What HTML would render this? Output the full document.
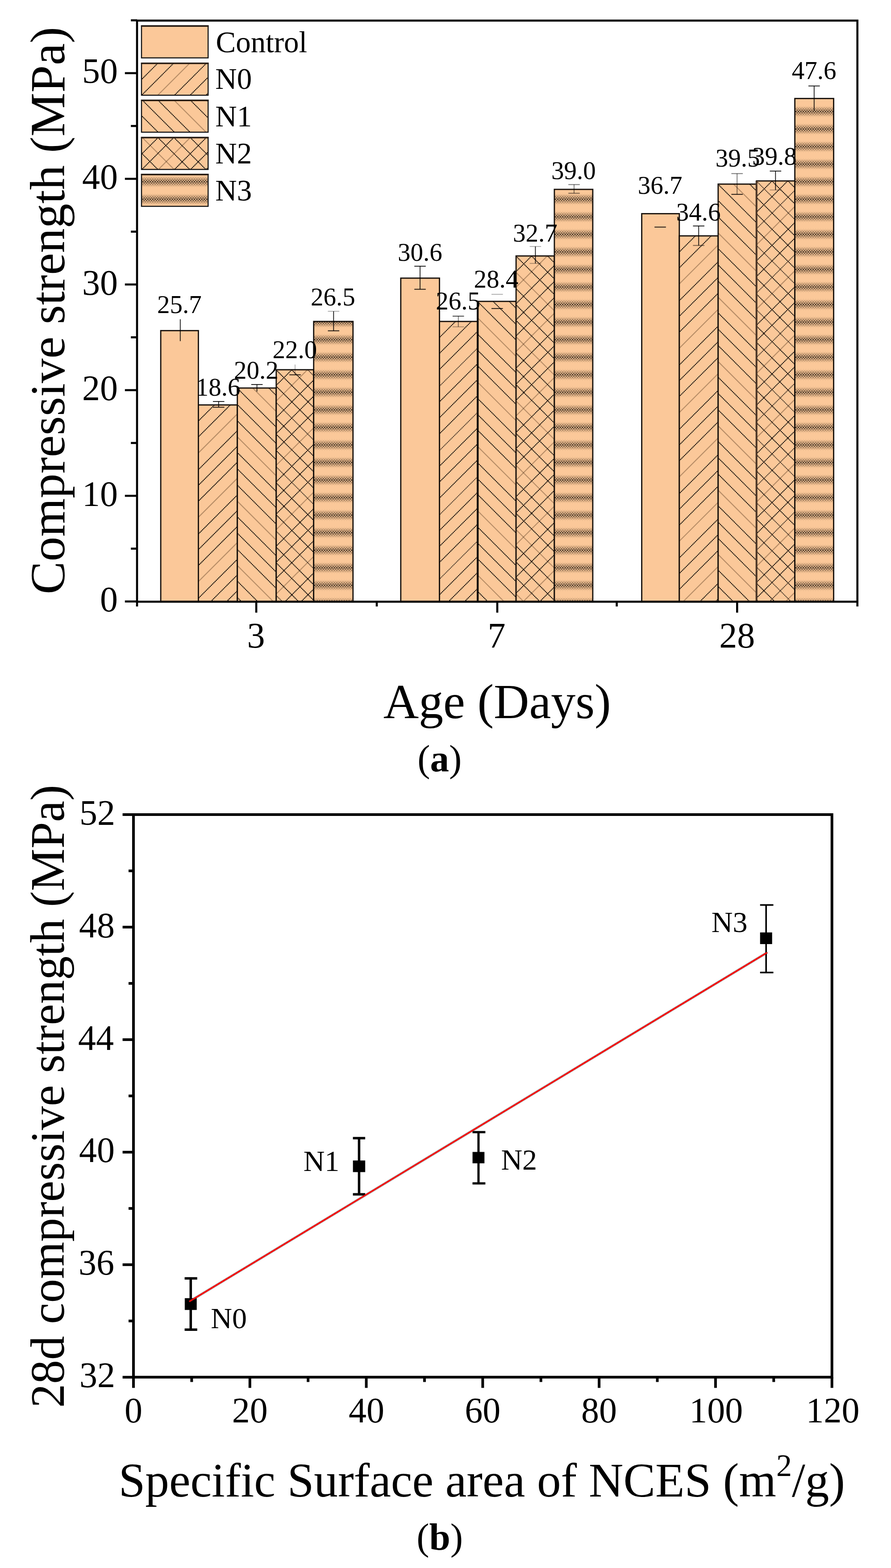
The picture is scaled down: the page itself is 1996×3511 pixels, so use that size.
<!DOCTYPE html><html><head><meta charset="utf-8"><title>Compressive strength figure</title><style>html,body{margin:0;padding:0;background:#fff;width:1996px;height:3511px;overflow:hidden}svg{display:block}</style></head><body><svg width="1996" height="3511" viewBox="0 0 1996 3511"><defs><pattern id="pband" patternUnits="userSpaceOnUse" x="-0.225" y="426.553" width="5.500" height="39.293"><rect width="5.500" height="39.293" fill="#FBC899"/><rect x="0" y="9.646" width="5.500" height="20.000" fill="#5a3a1a" fill-opacity="0.09"/><rect x="0.000" y="6.596" width="2.750" height="2.900" fill="#000" fill-opacity="0.03"/><rect x="2.750" y="9.497" width="2.750" height="2.900" fill="#000" fill-opacity="0.12"/><rect x="0.000" y="12.396" width="2.750" height="2.900" fill="#000" fill-opacity="0.34"/><rect x="2.750" y="15.297" width="2.750" height="2.900" fill="#000" fill-opacity="0.58"/><rect x="0.000" y="18.197" width="2.750" height="2.900" fill="#000" fill-opacity="0.80"/><rect x="2.750" y="21.096" width="2.750" height="2.900" fill="#000" fill-opacity="0.58"/><rect x="0.000" y="23.997" width="2.750" height="2.900" fill="#000" fill-opacity="0.34"/><rect x="2.750" y="26.896" width="2.750" height="2.900" fill="#000" fill-opacity="0.12"/><rect x="0.000" y="29.796" width="2.750" height="2.900" fill="#000" fill-opacity="0.03"/></pattern><clipPath id="c1"><rect x="444.40" y="906.72" width="87.30" height="440.58"/></clipPath><clipPath id="c2"><rect x="531.70" y="868.87" width="87.10" height="478.43"/></clipPath><clipPath id="c3"><rect x="618.80" y="827.90" width="83.90" height="519.40"/></clipPath><clipPath id="c4"><rect x="984.50" y="719.81" width="85.60" height="627.49"/></clipPath><clipPath id="c5"><rect x="1070.10" y="674.86" width="86.00" height="672.44"/></clipPath><clipPath id="c6"><rect x="1156.10" y="573.12" width="85.80" height="774.18"/></clipPath><clipPath id="c7"><rect x="1521.80" y="528.16" width="87.00" height="819.14"/></clipPath><clipPath id="c8"><rect x="1608.80" y="412.23" width="85.90" height="935.07"/></clipPath><clipPath id="c9"><rect x="1694.70" y="405.13" width="85.90" height="942.17"/></clipPath><clipPath id="c10"><rect x="317.00" y="141.60" width="149.20" height="71.60"/></clipPath><clipPath id="c11"><rect x="317.00" y="224.40" width="149.20" height="71.60"/></clipPath><clipPath id="c12"><rect x="317.00" y="307.80" width="149.20" height="71.60"/></clipPath></defs><rect width="1996" height="3511" fill="#fff"/><g id="bars"><rect x="360.10" y="740.30" width="84.30" height="607.00" fill="#FBC899"/><rect x="360.10" y="740.30" width="84.30" height="607.00" fill="none" stroke="#16100b" stroke-width="2.8"/><rect x="444.40" y="906.72" width="87.30" height="440.58" fill="#FBC899"/><g clip-path="url(#c1)"><path d="M556.90 901.72L106.32 1352.30M700.90 901.72L250.32 1352.30M844.90 901.72L394.32 1352.30" fill="none" stroke="rgba(45,22,0,0.33)" stroke-width="2.2"/><g><path d="M450.40 901.72L-0.18 1352.30M594.40 901.72L143.82 1352.30M738.40 901.72L287.82 1352.30M882.40 901.72L431.82 1352.30M485.40 901.72L34.82 1352.30M629.40 901.72L178.82 1352.30M773.40 901.72L322.82 1352.30M917.40 901.72L466.82 1352.30M520.90 901.72L70.32 1352.30M664.90 901.72L214.32 1352.30M808.90 901.72L358.32 1352.30M952.90 901.72L502.32 1352.30" fill="none" stroke="rgba(20,12,6,0.62)" stroke-width="1.45"/><path d="M450.40 901.72L-0.18 1352.30M594.40 901.72L143.82 1352.30M738.40 901.72L287.82 1352.30M882.40 901.72L431.82 1352.30M485.40 901.72L34.82 1352.30M629.40 901.72L178.82 1352.30M773.40 901.72L322.82 1352.30M917.40 901.72L466.82 1352.30M520.90 901.72L70.32 1352.30M664.90 901.72L214.32 1352.30M808.90 901.72L358.32 1352.30M952.90 901.72L502.32 1352.30" fill="none" stroke="#000" stroke-width="2.1" stroke-dasharray="1.7 2.2"/></g></g><rect x="444.40" y="906.72" width="87.30" height="440.58" fill="none" stroke="#16100b" stroke-width="2.8"/><rect x="531.70" y="868.87" width="87.10" height="478.43" fill="#FBC899"/><g clip-path="url(#c2)"><path d="M129.20 863.87L617.63 1352.30M273.20 863.87L761.63 1352.30M417.20 863.87L905.63 1352.30M561.20 863.87L1049.63 1352.30" fill="none" stroke="rgba(45,22,0,0.33)" stroke-width="2.2"/><g><path d="M94.20 863.87L582.63 1352.30M238.20 863.87L726.63 1352.30M382.20 863.87L870.63 1352.30M526.20 863.87L1014.63 1352.30M165.20 863.87L653.63 1352.30M309.20 863.87L797.63 1352.30M453.20 863.87L941.63 1352.30M597.20 863.87L1085.63 1352.30M57.70 863.87L546.13 1352.30M201.70 863.87L690.13 1352.30M345.70 863.87L834.13 1352.30M489.70 863.87L978.13 1352.30" fill="none" stroke="rgba(20,12,6,0.62)" stroke-width="1.45"/><path d="M94.20 863.87L582.63 1352.30M238.20 863.87L726.63 1352.30M382.20 863.87L870.63 1352.30M526.20 863.87L1014.63 1352.30M165.20 863.87L653.63 1352.30M309.20 863.87L797.63 1352.30M453.20 863.87L941.63 1352.30M597.20 863.87L1085.63 1352.30M57.70 863.87L546.13 1352.30M201.70 863.87L690.13 1352.30M345.70 863.87L834.13 1352.30M489.70 863.87L978.13 1352.30" fill="none" stroke="#000" stroke-width="2.1" stroke-dasharray="1.7 2.2"/></g></g><rect x="531.70" y="868.87" width="87.10" height="478.43" fill="none" stroke="#16100b" stroke-width="2.8"/><rect x="618.80" y="827.90" width="83.90" height="519.40" fill="#FBC899"/><g clip-path="url(#c3)"><path d="M693.80 822.90L164.40 1352.30M837.80 822.90L308.40 1352.30M981.80 822.90L452.40 1352.30M1125.80 822.90L596.40 1352.30" fill="none" stroke="rgba(45,22,0,0.33)" stroke-width="2.2"/><g><path d="M622.80 822.90L93.40 1352.30M766.80 822.90L237.40 1352.30M910.80 822.90L381.40 1352.30M1054.80 822.90L525.40 1352.30M1198.80 822.90L669.40 1352.30M658.80 822.90L129.40 1352.30M802.80 822.90L273.40 1352.30M946.80 822.90L417.40 1352.30M1090.80 822.90L561.40 1352.30M730.80 822.90L201.40 1352.30M874.80 822.90L345.40 1352.30M1018.80 822.90L489.40 1352.30M1162.80 822.90L633.40 1352.30" fill="none" stroke="rgba(20,12,6,0.62)" stroke-width="1.45"/><path d="M622.80 822.90L93.40 1352.30M766.80 822.90L237.40 1352.30M910.80 822.90L381.40 1352.30M1054.80 822.90L525.40 1352.30M1198.80 822.90L669.40 1352.30M658.80 822.90L129.40 1352.30M802.80 822.90L273.40 1352.30M946.80 822.90L417.40 1352.30M1090.80 822.90L561.40 1352.30M730.80 822.90L201.40 1352.30M874.80 822.90L345.40 1352.30M1018.80 822.90L489.40 1352.30M1162.80 822.90L633.40 1352.30" fill="none" stroke="#000" stroke-width="2.1" stroke-dasharray="1.7 2.2"/></g><g opacity="0.72"><path d="M108.30 822.90L637.70 1352.30M252.30 822.90L781.70 1352.30M396.30 822.90L925.70 1352.30M540.30 822.90L1069.70 1352.30M684.30 822.90L1213.70 1352.30" fill="none" stroke="rgba(20,12,6,0.62)" stroke-width="1.45"/><path d="M108.30 822.90L637.70 1352.30M252.30 822.90L781.70 1352.30M396.30 822.90L925.70 1352.30M540.30 822.90L1069.70 1352.30M684.30 822.90L1213.70 1352.30" fill="none" stroke="#000" stroke-width="2.1" stroke-dasharray="1.7 2.2"/></g><g><path d="M181.30 822.90L710.70 1352.30M325.30 822.90L854.70 1352.30M469.30 822.90L998.70 1352.30M613.30 822.90L1142.70 1352.30M216.30 822.90L745.70 1352.30M360.30 822.90L889.70 1352.30M504.30 822.90L1033.70 1352.30M648.30 822.90L1177.70 1352.30M144.80 822.90L674.20 1352.30M288.80 822.90L818.20 1352.30M432.80 822.90L962.20 1352.30M576.80 822.90L1106.20 1352.30" fill="none" stroke="rgba(20,12,6,0.62)" stroke-width="1.45"/><path d="M181.30 822.90L710.70 1352.30M325.30 822.90L854.70 1352.30M469.30 822.90L998.70 1352.30M613.30 822.90L1142.70 1352.30M216.30 822.90L745.70 1352.30M360.30 822.90L889.70 1352.30M504.30 822.90L1033.70 1352.30M648.30 822.90L1177.70 1352.30M144.80 822.90L674.20 1352.30M288.80 822.90L818.20 1352.30M432.80 822.90L962.20 1352.30M576.80 822.90L1106.20 1352.30" fill="none" stroke="#000" stroke-width="2.1" stroke-dasharray="1.7 2.2"/></g></g><rect x="618.80" y="827.90" width="83.90" height="519.40" fill="none" stroke="#16100b" stroke-width="2.8"/><rect x="702.70" y="719.81" width="88.10" height="627.49" fill="url(#pband)"/><rect x="702.70" y="719.81" width="88.10" height="627.49" fill="none" stroke="#16100b" stroke-width="2.8"/><rect x="897.80" y="622.80" width="86.70" height="724.50" fill="#FBC899"/><rect x="897.80" y="622.80" width="86.70" height="724.50" fill="none" stroke="#16100b" stroke-width="2.8"/><rect x="984.50" y="719.81" width="85.60" height="627.49" fill="#FBC899"/><g clip-path="url(#c4)"><g opacity="0.72"><path d="M990.50 714.81L353.01 1352.30M1134.50 714.81L497.01 1352.30M1278.50 714.81L641.01 1352.30M1422.50 714.81L785.01 1352.30M1566.50 714.81L929.01 1352.30" fill="none" stroke="rgba(20,12,6,0.62)" stroke-width="1.45"/><path d="M990.50 714.81L353.01 1352.30M1134.50 714.81L497.01 1352.30M1278.50 714.81L641.01 1352.30M1422.50 714.81L785.01 1352.30M1566.50 714.81L929.01 1352.30" fill="none" stroke="#000" stroke-width="2.1" stroke-dasharray="1.7 2.2"/></g><g><path d="M1025.50 714.81L388.01 1352.30M1169.50 714.81L532.01 1352.30M1313.50 714.81L676.01 1352.30M1457.50 714.81L820.01 1352.30M1601.50 714.81L964.01 1352.30M1061.00 714.81L423.51 1352.30M1205.00 714.81L567.51 1352.30M1349.00 714.81L711.51 1352.30M1493.00 714.81L855.51 1352.30M1637.00 714.81L999.51 1352.30M1097.00 714.81L459.51 1352.30M1241.00 714.81L603.51 1352.30M1385.00 714.81L747.51 1352.30M1529.00 714.81L891.51 1352.30M1673.00 714.81L1035.51 1352.30" fill="none" stroke="rgba(20,12,6,0.62)" stroke-width="1.45"/><path d="M1025.50 714.81L388.01 1352.30M1169.50 714.81L532.01 1352.30M1313.50 714.81L676.01 1352.30M1457.50 714.81L820.01 1352.30M1601.50 714.81L964.01 1352.30M1061.00 714.81L423.51 1352.30M1205.00 714.81L567.51 1352.30M1349.00 714.81L711.51 1352.30M1493.00 714.81L855.51 1352.30M1637.00 714.81L999.51 1352.30M1097.00 714.81L459.51 1352.30M1241.00 714.81L603.51 1352.30M1385.00 714.81L747.51 1352.30M1529.00 714.81L891.51 1352.30M1673.00 714.81L1035.51 1352.30" fill="none" stroke="#000" stroke-width="2.1" stroke-dasharray="1.7 2.2"/></g></g><rect x="984.50" y="719.81" width="85.60" height="627.49" fill="none" stroke="#16100b" stroke-width="2.8"/><rect x="1070.10" y="674.86" width="86.00" height="672.44" fill="#FBC899"/><g clip-path="url(#c5)"><path d="M452.10 669.86L1134.54 1352.30M596.10 669.86L1278.54 1352.30M740.10 669.86L1422.54 1352.30M884.10 669.86L1566.54 1352.30M1028.10 669.86L1710.54 1352.30" fill="none" stroke="rgba(45,22,0,0.33)" stroke-width="2.2"/><g><path d="M488.60 669.86L1171.04 1352.30M632.60 669.86L1315.04 1352.30M776.60 669.86L1459.04 1352.30M920.60 669.86L1603.04 1352.30M1064.60 669.86L1747.04 1352.30M523.60 669.86L1206.04 1352.30M667.60 669.86L1350.04 1352.30M811.60 669.86L1494.04 1352.30M955.60 669.86L1638.04 1352.30M1099.60 669.86L1782.04 1352.30M415.60 669.86L1098.04 1352.30M559.60 669.86L1242.04 1352.30M703.60 669.86L1386.04 1352.30M847.60 669.86L1530.04 1352.30M991.60 669.86L1674.04 1352.30M1135.60 669.86L1818.04 1352.30" fill="none" stroke="rgba(20,12,6,0.62)" stroke-width="1.45"/><path d="M488.60 669.86L1171.04 1352.30M632.60 669.86L1315.04 1352.30M776.60 669.86L1459.04 1352.30M920.60 669.86L1603.04 1352.30M1064.60 669.86L1747.04 1352.30M523.60 669.86L1206.04 1352.30M667.60 669.86L1350.04 1352.30M811.60 669.86L1494.04 1352.30M955.60 669.86L1638.04 1352.30M1099.60 669.86L1782.04 1352.30M415.60 669.86L1098.04 1352.30M559.60 669.86L1242.04 1352.30M703.60 669.86L1386.04 1352.30M847.60 669.86L1530.04 1352.30M991.60 669.86L1674.04 1352.30M1135.60 669.86L1818.04 1352.30" fill="none" stroke="#000" stroke-width="2.1" stroke-dasharray="1.7 2.2"/></g></g><rect x="1070.10" y="674.86" width="86.00" height="672.44" fill="none" stroke="#16100b" stroke-width="2.8"/><rect x="1156.10" y="573.12" width="85.80" height="774.18" fill="#FBC899"/><g clip-path="url(#c6)"><path d="M1231.10 568.12L446.92 1352.30M1375.10 568.12L590.92 1352.30M1519.10 568.12L734.92 1352.30M1663.10 568.12L878.92 1352.30M1807.10 568.12L1022.92 1352.30M1951.10 568.12L1166.92 1352.30" fill="none" stroke="rgba(45,22,0,0.33)" stroke-width="2.2"/><g><path d="M1160.10 568.12L375.92 1352.30M1304.10 568.12L519.92 1352.30M1448.10 568.12L663.92 1352.30M1592.10 568.12L807.92 1352.30M1736.10 568.12L951.92 1352.30M1880.10 568.12L1095.92 1352.30M1196.10 568.12L411.92 1352.30M1340.10 568.12L555.92 1352.30M1484.10 568.12L699.92 1352.30M1628.10 568.12L843.92 1352.30M1772.10 568.12L987.92 1352.30M1916.10 568.12L1131.92 1352.30M1268.10 568.12L483.92 1352.30M1412.10 568.12L627.92 1352.30M1556.10 568.12L771.92 1352.30M1700.10 568.12L915.92 1352.30M1844.10 568.12L1059.92 1352.30M1988.10 568.12L1203.92 1352.30" fill="none" stroke="rgba(20,12,6,0.62)" stroke-width="1.45"/><path d="M1160.10 568.12L375.92 1352.30M1304.10 568.12L519.92 1352.30M1448.10 568.12L663.92 1352.30M1592.10 568.12L807.92 1352.30M1736.10 568.12L951.92 1352.30M1880.10 568.12L1095.92 1352.30M1196.10 568.12L411.92 1352.30M1340.10 568.12L555.92 1352.30M1484.10 568.12L699.92 1352.30M1628.10 568.12L843.92 1352.30M1772.10 568.12L987.92 1352.30M1916.10 568.12L1131.92 1352.30M1268.10 568.12L483.92 1352.30M1412.10 568.12L627.92 1352.30M1556.10 568.12L771.92 1352.30M1700.10 568.12L915.92 1352.30M1844.10 568.12L1059.92 1352.30M1988.10 568.12L1203.92 1352.30" fill="none" stroke="#000" stroke-width="2.1" stroke-dasharray="1.7 2.2"/></g><path d="M394.10 568.12L1178.28 1352.30M538.10 568.12L1322.28 1352.30M682.10 568.12L1466.28 1352.30M826.10 568.12L1610.28 1352.30M970.10 568.12L1754.28 1352.30M1114.10 568.12L1898.28 1352.30" fill="none" stroke="rgba(45,22,0,0.33)" stroke-width="2.2"/><g><path d="M430.60 568.12L1214.78 1352.30M574.60 568.12L1358.78 1352.30M718.60 568.12L1502.78 1352.30M862.60 568.12L1646.78 1352.30M1006.60 568.12L1790.78 1352.30M1150.60 568.12L1934.78 1352.30M465.60 568.12L1249.78 1352.30M609.60 568.12L1393.78 1352.30M753.60 568.12L1537.78 1352.30M897.60 568.12L1681.78 1352.30M1041.60 568.12L1825.78 1352.30M1185.60 568.12L1969.78 1352.30M501.60 568.12L1285.78 1352.30M645.60 568.12L1429.78 1352.30M789.60 568.12L1573.78 1352.30M933.60 568.12L1717.78 1352.30M1077.60 568.12L1861.78 1352.30M1221.60 568.12L2005.78 1352.30" fill="none" stroke="rgba(20,12,6,0.62)" stroke-width="1.45"/><path d="M430.60 568.12L1214.78 1352.30M574.60 568.12L1358.78 1352.30M718.60 568.12L1502.78 1352.30M862.60 568.12L1646.78 1352.30M1006.60 568.12L1790.78 1352.30M1150.60 568.12L1934.78 1352.30M465.60 568.12L1249.78 1352.30M609.60 568.12L1393.78 1352.30M753.60 568.12L1537.78 1352.30M897.60 568.12L1681.78 1352.30M1041.60 568.12L1825.78 1352.30M1185.60 568.12L1969.78 1352.30M501.60 568.12L1285.78 1352.30M645.60 568.12L1429.78 1352.30M789.60 568.12L1573.78 1352.30M933.60 568.12L1717.78 1352.30M1077.60 568.12L1861.78 1352.30M1221.60 568.12L2005.78 1352.30" fill="none" stroke="#000" stroke-width="2.1" stroke-dasharray="1.7 2.2"/></g></g><rect x="1156.10" y="573.12" width="85.80" height="774.18" fill="none" stroke="#16100b" stroke-width="2.8"/><rect x="1241.90" y="424.06" width="86.00" height="923.24" fill="url(#pband)"/><rect x="1241.90" y="424.06" width="86.00" height="923.24" fill="none" stroke="#16100b" stroke-width="2.8"/><rect x="1437.60" y="478.48" width="84.20" height="868.82" fill="#FBC899"/><rect x="1437.60" y="478.48" width="84.20" height="868.82" fill="none" stroke="#16100b" stroke-width="2.8"/><rect x="1521.80" y="528.16" width="87.00" height="819.14" fill="#FBC899"/><g clip-path="url(#c7)"><path d="M1634.30 523.16L805.16 1352.30M1778.30 523.16L949.16 1352.30M1922.30 523.16L1093.16 1352.30M2066.30 523.16L1237.16 1352.30M2210.30 523.16L1381.16 1352.30M2354.30 523.16L1525.16 1352.30" fill="none" stroke="rgba(45,22,0,0.33)" stroke-width="2.2"/><g><path d="M1527.80 523.16L698.66 1352.30M1671.80 523.16L842.66 1352.30M1815.80 523.16L986.66 1352.30M1959.80 523.16L1130.66 1352.30M2103.80 523.16L1274.66 1352.30M2247.80 523.16L1418.66 1352.30M2391.80 523.16L1562.66 1352.30M1562.80 523.16L733.66 1352.30M1706.80 523.16L877.66 1352.30M1850.80 523.16L1021.66 1352.30M1994.80 523.16L1165.66 1352.30M2138.80 523.16L1309.66 1352.30M2282.80 523.16L1453.66 1352.30M2426.80 523.16L1597.66 1352.30M1598.30 523.16L769.16 1352.30M1742.30 523.16L913.16 1352.30M1886.30 523.16L1057.16 1352.30M2030.30 523.16L1201.16 1352.30M2174.30 523.16L1345.16 1352.30M2318.30 523.16L1489.16 1352.30" fill="none" stroke="rgba(20,12,6,0.62)" stroke-width="1.45"/><path d="M1527.80 523.16L698.66 1352.30M1671.80 523.16L842.66 1352.30M1815.80 523.16L986.66 1352.30M1959.80 523.16L1130.66 1352.30M2103.80 523.16L1274.66 1352.30M2247.80 523.16L1418.66 1352.30M2391.80 523.16L1562.66 1352.30M1562.80 523.16L733.66 1352.30M1706.80 523.16L877.66 1352.30M1850.80 523.16L1021.66 1352.30M1994.80 523.16L1165.66 1352.30M2138.80 523.16L1309.66 1352.30M2282.80 523.16L1453.66 1352.30M2426.80 523.16L1597.66 1352.30M1598.30 523.16L769.16 1352.30M1742.30 523.16L913.16 1352.30M1886.30 523.16L1057.16 1352.30M2030.30 523.16L1201.16 1352.30M2174.30 523.16L1345.16 1352.30M2318.30 523.16L1489.16 1352.30" fill="none" stroke="#000" stroke-width="2.1" stroke-dasharray="1.7 2.2"/></g></g><rect x="1521.80" y="528.16" width="87.00" height="819.14" fill="none" stroke="#16100b" stroke-width="2.8"/><rect x="1608.80" y="412.23" width="85.90" height="935.07" fill="#FBC899"/><g clip-path="url(#c8)"><path d="M774.30 407.23L1719.37 1352.30M918.30 407.23L1863.37 1352.30M1062.30 407.23L2007.37 1352.30M1206.30 407.23L2151.37 1352.30M1350.30 407.23L2295.37 1352.30M1494.30 407.23L2439.37 1352.30M1638.30 407.23L2583.37 1352.30" fill="none" stroke="rgba(45,22,0,0.33)" stroke-width="2.2"/><g><path d="M739.30 407.23L1684.37 1352.30M883.30 407.23L1828.37 1352.30M1027.30 407.23L1972.37 1352.30M1171.30 407.23L2116.37 1352.30M1315.30 407.23L2260.37 1352.30M1459.30 407.23L2404.37 1352.30M1603.30 407.23L2548.37 1352.30M666.30 407.23L1611.37 1352.30M810.30 407.23L1755.37 1352.30M954.30 407.23L1899.37 1352.30M1098.30 407.23L2043.37 1352.30M1242.30 407.23L2187.37 1352.30M1386.30 407.23L2331.37 1352.30M1530.30 407.23L2475.37 1352.30M1674.30 407.23L2619.37 1352.30M702.80 407.23L1647.87 1352.30M846.80 407.23L1791.87 1352.30M990.80 407.23L1935.87 1352.30M1134.80 407.23L2079.87 1352.30M1278.80 407.23L2223.87 1352.30M1422.80 407.23L2367.87 1352.30M1566.80 407.23L2511.87 1352.30" fill="none" stroke="rgba(20,12,6,0.62)" stroke-width="1.45"/><path d="M739.30 407.23L1684.37 1352.30M883.30 407.23L1828.37 1352.30M1027.30 407.23L1972.37 1352.30M1171.30 407.23L2116.37 1352.30M1315.30 407.23L2260.37 1352.30M1459.30 407.23L2404.37 1352.30M1603.30 407.23L2548.37 1352.30M666.30 407.23L1611.37 1352.30M810.30 407.23L1755.37 1352.30M954.30 407.23L1899.37 1352.30M1098.30 407.23L2043.37 1352.30M1242.30 407.23L2187.37 1352.30M1386.30 407.23L2331.37 1352.30M1530.30 407.23L2475.37 1352.30M1674.30 407.23L2619.37 1352.30M702.80 407.23L1647.87 1352.30M846.80 407.23L1791.87 1352.30M990.80 407.23L1935.87 1352.30M1134.80 407.23L2079.87 1352.30M1278.80 407.23L2223.87 1352.30M1422.80 407.23L2367.87 1352.30M1566.80 407.23L2511.87 1352.30" fill="none" stroke="#000" stroke-width="2.1" stroke-dasharray="1.7 2.2"/></g></g><rect x="1608.80" y="412.23" width="85.90" height="935.07" fill="none" stroke="#16100b" stroke-width="2.8"/><rect x="1694.70" y="405.13" width="85.90" height="942.17" fill="#FBC899"/><g clip-path="url(#c9)"><path d="M1698.70 400.13L746.53 1352.30M1842.70 400.13L890.53 1352.30M1986.70 400.13L1034.53 1352.30M2130.70 400.13L1178.53 1352.30M2274.70 400.13L1322.53 1352.30M2418.70 400.13L1466.53 1352.30M2562.70 400.13L1610.53 1352.30M2706.70 400.13L1754.53 1352.30" fill="none" stroke="rgba(45,22,0,0.33)" stroke-width="2.2"/><g opacity="0.72"><path d="M1806.70 400.13L854.53 1352.30M1950.70 400.13L998.53 1352.30M2094.70 400.13L1142.53 1352.30M2238.70 400.13L1286.53 1352.30M2382.70 400.13L1430.53 1352.30M2526.70 400.13L1574.53 1352.30M2670.70 400.13L1718.53 1352.30" fill="none" stroke="rgba(20,12,6,0.62)" stroke-width="1.45"/><path d="M1806.70 400.13L854.53 1352.30M1950.70 400.13L998.53 1352.30M2094.70 400.13L1142.53 1352.30M2238.70 400.13L1286.53 1352.30M2382.70 400.13L1430.53 1352.30M2526.70 400.13L1574.53 1352.30M2670.70 400.13L1718.53 1352.30" fill="none" stroke="#000" stroke-width="2.1" stroke-dasharray="1.7 2.2"/></g><g><path d="M1734.70 400.13L782.53 1352.30M1878.70 400.13L926.53 1352.30M2022.70 400.13L1070.53 1352.30M2166.70 400.13L1214.53 1352.30M2310.70 400.13L1358.53 1352.30M2454.70 400.13L1502.53 1352.30M2598.70 400.13L1646.53 1352.30M1769.70 400.13L817.53 1352.30M1913.70 400.13L961.53 1352.30M2057.70 400.13L1105.53 1352.30M2201.70 400.13L1249.53 1352.30M2345.70 400.13L1393.53 1352.30M2489.70 400.13L1537.53 1352.30M2633.70 400.13L1681.53 1352.30" fill="none" stroke="rgba(20,12,6,0.62)" stroke-width="1.45"/><path d="M1734.70 400.13L782.53 1352.30M1878.70 400.13L926.53 1352.30M2022.70 400.13L1070.53 1352.30M2166.70 400.13L1214.53 1352.30M2310.70 400.13L1358.53 1352.30M2454.70 400.13L1502.53 1352.30M2598.70 400.13L1646.53 1352.30M1769.70 400.13L817.53 1352.30M1913.70 400.13L961.53 1352.30M2057.70 400.13L1105.53 1352.30M2201.70 400.13L1249.53 1352.30M2345.70 400.13L1393.53 1352.30M2489.70 400.13L1537.53 1352.30M2633.70 400.13L1681.53 1352.30" fill="none" stroke="#000" stroke-width="2.1" stroke-dasharray="1.7 2.2"/></g><g opacity="0.72"><path d="M825.20 400.13L1777.37 1352.30M969.20 400.13L1921.37 1352.30M1113.20 400.13L2065.37 1352.30M1257.20 400.13L2209.37 1352.30M1401.20 400.13L2353.37 1352.30M1545.20 400.13L2497.37 1352.30M1689.20 400.13L2641.37 1352.30" fill="none" stroke="rgba(20,12,6,0.62)" stroke-width="1.45"/><path d="M825.20 400.13L1777.37 1352.30M969.20 400.13L1921.37 1352.30M1113.20 400.13L2065.37 1352.30M1257.20 400.13L2209.37 1352.30M1401.20 400.13L2353.37 1352.30M1545.20 400.13L2497.37 1352.30M1689.20 400.13L2641.37 1352.30" fill="none" stroke="#000" stroke-width="2.1" stroke-dasharray="1.7 2.2"/></g><g><path d="M860.20 400.13L1812.37 1352.30M1004.20 400.13L1956.37 1352.30M1148.20 400.13L2100.37 1352.30M1292.20 400.13L2244.37 1352.30M1436.20 400.13L2388.37 1352.30M1580.20 400.13L2532.37 1352.30M1724.20 400.13L2676.37 1352.30M752.20 400.13L1704.37 1352.30M896.20 400.13L1848.37 1352.30M1040.20 400.13L1992.37 1352.30M1184.20 400.13L2136.37 1352.30M1328.20 400.13L2280.37 1352.30M1472.20 400.13L2424.37 1352.30M1616.20 400.13L2568.37 1352.30M1760.20 400.13L2712.37 1352.30M788.70 400.13L1740.87 1352.30M932.70 400.13L1884.87 1352.30M1076.70 400.13L2028.87 1352.30M1220.70 400.13L2172.87 1352.30M1364.70 400.13L2316.87 1352.30M1508.70 400.13L2460.87 1352.30M1652.70 400.13L2604.87 1352.30" fill="none" stroke="rgba(20,12,6,0.62)" stroke-width="1.45"/><path d="M860.20 400.13L1812.37 1352.30M1004.20 400.13L1956.37 1352.30M1148.20 400.13L2100.37 1352.30M1292.20 400.13L2244.37 1352.30M1436.20 400.13L2388.37 1352.30M1580.20 400.13L2532.37 1352.30M1724.20 400.13L2676.37 1352.30M752.20 400.13L1704.37 1352.30M896.20 400.13L1848.37 1352.30M1040.20 400.13L1992.37 1352.30M1184.20 400.13L2136.37 1352.30M1328.20 400.13L2280.37 1352.30M1472.20 400.13L2424.37 1352.30M1616.20 400.13L2568.37 1352.30M1760.20 400.13L2712.37 1352.30M788.70 400.13L1740.87 1352.30M932.70 400.13L1884.87 1352.30M1076.70 400.13L2028.87 1352.30M1220.70 400.13L2172.87 1352.30M1364.70 400.13L2316.87 1352.30M1508.70 400.13L2460.87 1352.30M1652.70 400.13L2604.87 1352.30" fill="none" stroke="#000" stroke-width="2.1" stroke-dasharray="1.7 2.2"/></g></g><rect x="1694.70" y="405.13" width="85.90" height="942.17" fill="none" stroke="#16100b" stroke-width="2.8"/><rect x="1780.60" y="220.58" width="86.90" height="1126.72" fill="url(#pband)"/><rect x="1780.60" y="220.58" width="86.90" height="1126.72" fill="none" stroke="#16100b" stroke-width="2.8"/><line x1="1070.1" y1="674.86" x2="1070.1" y2="1347.30" stroke="#000" stroke-width="4.2"/><line x1="1694.7" y1="405.13" x2="1694.7" y2="1347.30" stroke="#4a3526" stroke-width="4.0"/></g><g id="errs"><line x1="403.80" y1="714.80" x2="403.80" y2="763.90" stroke="rgba(0,0,0,0.9)" stroke-width="1.8"/><line x1="489.80" y1="899.00" x2="489.80" y2="911.80" stroke="rgba(0,0,0,0.9)" stroke-width="1.8"/><line x1="477.00" y1="899.00" x2="502.60" y2="899.00" stroke="rgba(0,0,0,0.9)" stroke-width="1.9"/><line x1="477.00" y1="911.80" x2="502.60" y2="911.80" stroke="rgba(0,0,0,0.9)" stroke-width="1.9"/><line x1="575.60" y1="861.00" x2="575.60" y2="876.80" stroke="rgba(0,0,0,0.9)" stroke-width="1.8"/><line x1="562.80" y1="861.00" x2="588.40" y2="861.00" stroke="rgba(0,0,0,0.9)" stroke-width="1.9"/><line x1="661.00" y1="816.20" x2="661.00" y2="839.30" stroke="rgba(0,0,0,0.32)" stroke-width="1.8"/><line x1="648.20" y1="839.30" x2="673.80" y2="839.30" stroke="rgba(0,0,0,0.9)" stroke-width="1.9"/><line x1="747.30" y1="697.00" x2="747.30" y2="740.70" stroke="rgba(0,0,0,0.9)" stroke-width="1.8"/><line x1="734.50" y1="697.00" x2="760.10" y2="697.00" stroke="rgba(0,0,0,0.32)" stroke-width="1.9"/><line x1="734.50" y1="740.70" x2="760.10" y2="740.70" stroke="rgba(0,0,0,0.9)" stroke-width="1.9"/><line x1="941.00" y1="596.10" x2="941.00" y2="647.70" stroke="rgba(0,0,0,0.9)" stroke-width="1.8"/><line x1="928.20" y1="596.10" x2="953.80" y2="596.10" stroke="rgba(0,0,0,0.9)" stroke-width="1.9"/><line x1="928.20" y1="647.70" x2="953.80" y2="647.70" stroke="rgba(0,0,0,0.9)" stroke-width="1.9"/><line x1="1026.70" y1="707.90" x2="1026.70" y2="731.80" stroke="rgba(0,0,0,0.55)" stroke-width="1.8"/><line x1="1013.90" y1="707.90" x2="1039.50" y2="707.90" stroke="rgba(0,0,0,0.75)" stroke-width="1.9"/><line x1="1013.90" y1="731.80" x2="1039.50" y2="731.80" stroke="rgba(0,0,0,0.32)" stroke-width="1.9"/><line x1="1101.00" y1="659.00" x2="1126.60" y2="659.00" stroke="rgba(0,0,0,0.32)" stroke-width="1.9"/><line x1="1101.00" y1="690.80" x2="1126.60" y2="690.80" stroke="rgba(0,0,0,0.9)" stroke-width="1.9"/><line x1="1199.40" y1="551.90" x2="1199.40" y2="589.80" stroke="rgba(0,0,0,0.9)" stroke-width="1.8"/><line x1="1186.60" y1="551.90" x2="1212.20" y2="551.90" stroke="rgba(0,0,0,0.32)" stroke-width="1.9"/><line x1="1186.60" y1="589.80" x2="1212.20" y2="589.80" stroke="rgba(0,0,0,0.32)" stroke-width="1.9"/><line x1="1286.00" y1="413.30" x2="1286.00" y2="432.70" stroke="rgba(0,0,0,0.55)" stroke-width="1.8"/><line x1="1273.20" y1="413.30" x2="1298.80" y2="413.30" stroke="rgba(0,0,0,0.55)" stroke-width="1.9"/><line x1="1273.20" y1="432.70" x2="1298.80" y2="432.70" stroke="rgba(0,0,0,0.55)" stroke-width="1.9"/><line x1="1466.20" y1="508.50" x2="1491.80" y2="508.50" stroke="rgba(0,0,0,0.9)" stroke-width="1.9"/><line x1="1565.20" y1="506.00" x2="1565.20" y2="549.60" stroke="rgba(0,0,0,0.9)" stroke-width="1.8"/><line x1="1552.40" y1="506.00" x2="1578.00" y2="506.00" stroke="rgba(0,0,0,0.9)" stroke-width="1.9"/><line x1="1552.40" y1="549.60" x2="1578.00" y2="549.60" stroke="rgba(0,0,0,0.55)" stroke-width="1.9"/><line x1="1651.20" y1="388.70" x2="1651.20" y2="435.20" stroke="rgba(0,0,0,0.55)" stroke-width="1.8"/><line x1="1638.40" y1="388.70" x2="1664.00" y2="388.70" stroke="rgba(0,0,0,0.55)" stroke-width="1.9"/><line x1="1638.40" y1="435.20" x2="1664.00" y2="435.20" stroke="rgba(0,0,0,0.9)" stroke-width="1.9"/><line x1="1737.30" y1="383.10" x2="1737.30" y2="425.40" stroke="rgba(0,0,0,0.9)" stroke-width="1.8"/><line x1="1724.50" y1="383.10" x2="1750.10" y2="383.10" stroke="rgba(0,0,0,0.9)" stroke-width="1.9"/><line x1="1724.50" y1="425.40" x2="1750.10" y2="425.40" stroke="rgba(0,0,0,0.32)" stroke-width="1.9"/><line x1="1823.80" y1="192.50" x2="1823.80" y2="248.20" stroke="rgba(0,0,0,0.9)" stroke-width="1.8"/><line x1="1811.00" y1="192.50" x2="1836.60" y2="192.50" stroke="rgba(0,0,0,0.9)" stroke-width="1.9"/></g><g id="legend"><rect x="317.00" y="58.00" width="149.20" height="71.60" fill="#FBC899"/><rect x="317.00" y="58.00" width="149.20" height="71.60" fill="none" stroke="#111" stroke-width="2.4"/><line x1="315.80" y1="58.30" x2="467.40" y2="58.30" stroke="#241a12" stroke-width="3.4"/><rect x="317.00" y="141.60" width="149.20" height="71.60" fill="#FBC899"/><g clip-path="url(#c10)"><path d="M430.00 136.60L348.40 218.20" fill="none" stroke="rgba(45,22,0,0.33)" stroke-width="2.2"/><g><path d="M323.50 136.60L241.90 218.20M467.50 136.60L385.90 218.20M358.50 136.60L276.90 218.20M502.50 136.60L420.90 218.20M394.00 136.60L312.40 218.20M538.00 136.60L456.40 218.20" fill="none" stroke="rgba(20,12,6,0.62)" stroke-width="1.45"/><path d="M323.50 136.60L241.90 218.20M467.50 136.60L385.90 218.20M358.50 136.60L276.90 218.20M502.50 136.60L420.90 218.20M394.00 136.60L312.40 218.20M538.00 136.60L456.40 218.20" fill="none" stroke="#000" stroke-width="2.1" stroke-dasharray="1.7 2.2"/></g></g><rect x="317.00" y="141.60" width="149.20" height="71.60" fill="none" stroke="#111" stroke-width="2.4"/><line x1="315.80" y1="141.90" x2="467.40" y2="141.90" stroke="#241a12" stroke-width="3.4"/><rect x="317.00" y="224.40" width="149.20" height="71.60" fill="#FBC899"/><g clip-path="url(#c11)"><path d="M241.00 219.40L322.60 301.00M385.00 219.40L466.60 301.00" fill="none" stroke="rgba(45,22,0,0.33)" stroke-width="2.2"/><g><path d="M314.00 219.40L395.60 301.00M458.00 219.40L539.60 301.00M349.00 219.40L430.60 301.00M277.50 219.40L359.10 301.00M421.50 219.40L503.10 301.00" fill="none" stroke="rgba(20,12,6,0.62)" stroke-width="1.45"/><path d="M314.00 219.40L395.60 301.00M458.00 219.40L539.60 301.00M349.00 219.40L430.60 301.00M277.50 219.40L359.10 301.00M421.50 219.40L503.10 301.00" fill="none" stroke="#000" stroke-width="2.1" stroke-dasharray="1.7 2.2"/></g></g><rect x="317.00" y="224.40" width="149.20" height="71.60" fill="none" stroke="#111" stroke-width="2.4"/><line x1="315.80" y1="224.70" x2="467.40" y2="224.70" stroke="#241a12" stroke-width="3.4"/><rect x="317.00" y="307.80" width="149.20" height="71.60" fill="#FBC899"/><g clip-path="url(#c12)"><path d="M431.50 302.80L349.90 384.40" fill="none" stroke="rgba(45,22,0,0.33)" stroke-width="2.2"/><g><path d="M323.50 302.80L241.90 384.40M467.50 302.80L385.90 384.40M359.50 302.80L277.90 384.40M503.50 302.80L421.90 384.40M394.50 302.80L312.90 384.40M538.50 302.80L456.90 384.40" fill="none" stroke="rgba(20,12,6,0.62)" stroke-width="1.45"/><path d="M323.50 302.80L241.90 384.40M467.50 302.80L385.90 384.40M359.50 302.80L277.90 384.40M503.50 302.80L421.90 384.40M394.50 302.80L312.90 384.40M538.50 302.80L456.90 384.40" fill="none" stroke="#000" stroke-width="2.1" stroke-dasharray="1.7 2.2"/></g><path d="M313.50 302.80L395.10 384.40M457.50 302.80L539.10 384.40" fill="none" stroke="rgba(45,22,0,0.33)" stroke-width="2.2"/><g><path d="M348.50 302.80L430.10 384.40M240.50 302.80L322.10 384.40M384.50 302.80L466.10 384.40M277.00 302.80L358.60 384.40M421.00 302.80L502.60 384.40" fill="none" stroke="rgba(20,12,6,0.62)" stroke-width="1.45"/><path d="M348.50 302.80L430.10 384.40M240.50 302.80L322.10 384.40M384.50 302.80L466.10 384.40M277.00 302.80L358.60 384.40M421.00 302.80L502.60 384.40" fill="none" stroke="#000" stroke-width="2.1" stroke-dasharray="1.7 2.2"/></g></g><rect x="317.00" y="307.80" width="149.20" height="71.60" fill="none" stroke="#111" stroke-width="2.4"/><line x1="315.80" y1="308.10" x2="467.40" y2="308.10" stroke="#241a12" stroke-width="3.4"/><rect x="317.00" y="390.40" width="149.20" height="71.60" fill="url(#pband)"/><rect x="317.00" y="390.40" width="149.20" height="71.60" fill="none" stroke="#111" stroke-width="2.4"/><line x1="315.80" y1="390.70" x2="467.40" y2="390.70" stroke="#241a12" stroke-width="3.4"/></g><g id="frameA" stroke-linecap="butt"><rect x="307.00" y="46.10" width="1613.70" height="1301.20" fill="none" stroke="#000" stroke-width="4.6"/><line x1="279.80" y1="1346.80" x2="307.00" y2="1346.80" stroke="#000" stroke-width="4.6"/><line x1="279.80" y1="1110.20" x2="307.00" y2="1110.20" stroke="#000" stroke-width="4.6"/><line x1="279.80" y1="873.60" x2="307.00" y2="873.60" stroke="#000" stroke-width="4.6"/><line x1="279.80" y1="637.00" x2="307.00" y2="637.00" stroke="#000" stroke-width="4.6"/><line x1="279.80" y1="400.40" x2="307.00" y2="400.40" stroke="#000" stroke-width="4.6"/><line x1="279.80" y1="163.80" x2="307.00" y2="163.80" stroke="#000" stroke-width="4.6"/><line x1="293.20" y1="1228.50" x2="307.00" y2="1228.50" stroke="#000" stroke-width="4.6"/><line x1="293.20" y1="991.90" x2="307.00" y2="991.90" stroke="#000" stroke-width="4.6"/><line x1="293.20" y1="755.30" x2="307.00" y2="755.30" stroke="#000" stroke-width="4.6"/><line x1="293.20" y1="518.70" x2="307.00" y2="518.70" stroke="#000" stroke-width="4.6"/><line x1="293.20" y1="282.10" x2="307.00" y2="282.10" stroke="#000" stroke-width="4.6"/><line x1="293.20" y1="45.50" x2="307.00" y2="45.50" stroke="#000" stroke-width="4.6"/><line x1="574.10" y1="1347.30" x2="574.10" y2="1371.80" stroke="#000" stroke-width="4.6"/><line x1="1114.00" y1="1347.30" x2="1114.00" y2="1371.80" stroke="#000" stroke-width="4.6"/><line x1="1651.30" y1="1347.30" x2="1651.30" y2="1371.80" stroke="#000" stroke-width="4.6"/><line x1="307.00" y1="1347.30" x2="307.00" y2="1358.00" stroke="#000" stroke-width="4.6"/><line x1="844.00" y1="1347.30" x2="844.00" y2="1358.00" stroke="#000" stroke-width="4.6"/><line x1="1381.60" y1="1347.30" x2="1381.60" y2="1358.00" stroke="#000" stroke-width="4.6"/><line x1="1920.70" y1="1347.30" x2="1920.70" y2="1358.00" stroke="#000" stroke-width="4.6"/></g><g id="frameB"><rect x="299.00" y="1824.00" width="1564.70" height="1259.70" fill="none" stroke="#000" stroke-width="6.0"/><line x1="274.60" y1="3083.80" x2="299.00" y2="3083.80" stroke="#000" stroke-width="6.0"/><line x1="274.60" y1="2831.84" x2="299.00" y2="2831.84" stroke="#000" stroke-width="6.0"/><line x1="274.60" y1="2579.88" x2="299.00" y2="2579.88" stroke="#000" stroke-width="6.0"/><line x1="274.60" y1="2327.92" x2="299.00" y2="2327.92" stroke="#000" stroke-width="6.0"/><line x1="274.60" y1="2075.96" x2="299.00" y2="2075.96" stroke="#000" stroke-width="6.0"/><line x1="274.60" y1="1824.00" x2="299.00" y2="1824.00" stroke="#000" stroke-width="6.0"/><line x1="288.00" y1="2957.82" x2="299.00" y2="2957.82" stroke="#000" stroke-width="6.0"/><line x1="288.00" y1="2705.86" x2="299.00" y2="2705.86" stroke="#000" stroke-width="6.0"/><line x1="288.00" y1="2453.90" x2="299.00" y2="2453.90" stroke="#000" stroke-width="6.0"/><line x1="288.00" y1="2201.94" x2="299.00" y2="2201.94" stroke="#000" stroke-width="6.0"/><line x1="288.00" y1="1949.98" x2="299.00" y2="1949.98" stroke="#000" stroke-width="6.0"/><line x1="299.00" y1="3083.70" x2="299.00" y2="3107.70" stroke="#000" stroke-width="6.0"/><line x1="559.78" y1="3083.70" x2="559.78" y2="3107.70" stroke="#000" stroke-width="6.0"/><line x1="820.56" y1="3083.70" x2="820.56" y2="3107.70" stroke="#000" stroke-width="6.0"/><line x1="1081.34" y1="3083.70" x2="1081.34" y2="3107.70" stroke="#000" stroke-width="6.0"/><line x1="1342.12" y1="3083.70" x2="1342.12" y2="3107.70" stroke="#000" stroke-width="6.0"/><line x1="1602.90" y1="3083.70" x2="1602.90" y2="3107.70" stroke="#000" stroke-width="6.0"/><line x1="1863.68" y1="3083.70" x2="1863.68" y2="3107.70" stroke="#000" stroke-width="6.0"/><line x1="429.39" y1="3083.70" x2="429.39" y2="3094.50" stroke="#000" stroke-width="6.0"/><line x1="690.17" y1="3083.70" x2="690.17" y2="3094.50" stroke="#000" stroke-width="6.0"/><line x1="950.95" y1="3083.70" x2="950.95" y2="3094.50" stroke="#000" stroke-width="6.0"/><line x1="1211.73" y1="3083.70" x2="1211.73" y2="3094.50" stroke="#000" stroke-width="6.0"/><line x1="1472.51" y1="3083.70" x2="1472.51" y2="3094.50" stroke="#000" stroke-width="6.0"/><line x1="1733.29" y1="3083.70" x2="1733.29" y2="3094.50" stroke="#000" stroke-width="6.0"/></g><g id="pointsB"><line x1="427.30" y1="2862.50" x2="427.30" y2="2977.30" stroke="#000" stroke-width="5.5"/><line x1="413.60" y1="2862.50" x2="441.80" y2="2862.50" stroke="#000" stroke-width="5.5"/><line x1="413.60" y1="2977.30" x2="441.80" y2="2977.30" stroke="#000" stroke-width="5.5"/><rect x="413.90" y="2906.80" width="26.80" height="26.40" fill="#000"/><line x1="804.40" y1="2548.50" x2="804.40" y2="2674.30" stroke="#000" stroke-width="5.5"/><line x1="790.60" y1="2548.50" x2="818.10" y2="2548.50" stroke="#000" stroke-width="5.5"/><line x1="790.60" y1="2674.30" x2="818.10" y2="2674.30" stroke="#000" stroke-width="5.5"/><rect x="790.65" y="2598.50" width="27.50" height="26.00" fill="#000"/><line x1="1071.90" y1="2535.00" x2="1071.90" y2="2649.80" stroke="#000" stroke-width="5.0"/><line x1="1058.50" y1="2535.00" x2="1087.30" y2="2535.00" stroke="#000" stroke-width="5.0"/><line x1="1058.50" y1="2649.80" x2="1087.30" y2="2649.80" stroke="#000" stroke-width="5.0"/><rect x="1058.55" y="2579.40" width="26.70" height="25.40" fill="#000"/><line x1="1716.20" y1="2026.40" x2="1716.20" y2="2177.60" stroke="#000" stroke-width="3.6"/><line x1="1702.70" y1="2026.40" x2="1732.50" y2="2026.40" stroke="#000" stroke-width="3.6"/><line x1="1702.70" y1="2177.60" x2="1732.50" y2="2177.60" stroke="#000" stroke-width="3.6"/><rect x="1702.70" y="2087.85" width="27.00" height="26.10" fill="#000"/><line x1="425.2" y1="2913.6" x2="1717.4" y2="2133.6" stroke="rgba(50,35,35,0.42)" stroke-width="5.4" stroke-linecap="round"/><line x1="425.2" y1="2913.6" x2="1717.4" y2="2133.6" stroke="#f00" stroke-width="3.1" stroke-linecap="round"/></g><g id="texts" font-family="'Liberation Serif', 'Times New Roman', serif" fill="#000"><text x="224.00" y="1369.40" font-size="80" font-weight="normal">0</text><text x="184.00" y="1132.80" font-size="80" font-weight="normal">10</text><text x="184.00" y="896.20" font-size="80" font-weight="normal">20</text><text x="184.00" y="659.60" font-size="80" font-weight="normal">30</text><text x="184.00" y="423.00" font-size="80" font-weight="normal">40</text><text x="184.00" y="186.40" font-size="80" font-weight="normal">50</text><text x="553.60" y="1450.00" font-size="80" font-weight="normal">3</text><text x="1092.50" y="1450.00" font-size="80" font-weight="normal">7</text><text x="1611.30" y="1450.00" font-size="80" font-weight="normal">28</text><text x="351.95" y="701.20" font-size="57" font-weight="normal">25.7</text><text x="438.65" y="885.70" font-size="57" font-weight="normal">18.6</text><text x="524.10" y="847.90" font-size="57" font-weight="normal">20.2</text><text x="610.40" y="801.80" font-size="57" font-weight="normal">22.0</text><text x="695.95" y="684.30" font-size="57" font-weight="normal">26.5</text><text x="890.90" y="583.50" font-size="57" font-weight="normal">30.6</text><text x="976.25" y="693.00" font-size="57" font-weight="normal">26.5</text><text x="1061.40" y="643.70" font-size="57" font-weight="normal">28.4</text><text x="1148.90" y="540.80" font-size="57" font-weight="normal">32.7</text><text x="1234.95" y="401.30" font-size="57" font-weight="normal">39.0</text><text x="1428.65" y="433.80" font-size="57" font-weight="normal">36.7</text><text x="1514.65" y="493.50" font-size="57" font-weight="normal">34.6</text><text x="1602.85" y="372.80" font-size="57" font-weight="normal">39.5</text><text x="1685.05" y="368.70" font-size="57" font-weight="normal">39.8</text><text x="1773.65" y="177.10" font-size="57" font-weight="normal">47.6</text><text x="483.50" y="116.80" font-size="67" font-weight="normal">Control</text><text x="482.30" y="198.60" font-size="67" font-weight="normal">N0</text><text x="482.30" y="283.00" font-size="67" font-weight="normal">N1</text><text x="482.30" y="365.50" font-size="67" font-weight="normal">N2</text><text x="482.30" y="449.00" font-size="67" font-weight="normal">N3</text><text x="858.65" y="1608.30" font-size="110" font-weight="normal">Age (Days)</text><text transform="translate(143.50 1330.70) rotate(-90)" x="0" y="0" font-size="110.5">Compressive strength (MPa)</text><text x="935.30" y="1727.20" font-size="85" font-weight="normal">(<tspan font-weight="bold">a</tspan>)</text><text x="178.00" y="3106.40" font-size="80" font-weight="normal">32</text><text x="176.00" y="2854.44" font-size="80" font-weight="normal">36</text><text x="177.00" y="2602.48" font-size="80" font-weight="normal">40</text><text x="175.00" y="2350.52" font-size="80" font-weight="normal">44</text><text x="177.00" y="2098.56" font-size="80" font-weight="normal">48</text><text x="178.00" y="1846.60" font-size="80" font-weight="normal">52</text><text x="279.00" y="3184.50" font-size="80" font-weight="normal">0</text><text x="519.78" y="3184.50" font-size="80" font-weight="normal">20</text><text x="781.06" y="3184.50" font-size="80" font-weight="normal">40</text><text x="1041.34" y="3184.50" font-size="80" font-weight="normal">60</text><text x="1302.12" y="3184.50" font-size="80" font-weight="normal">80</text><text x="1544.30" y="3184.50" font-size="80" font-weight="normal">100</text><text x="1805.60" y="3184.50" font-size="80" font-weight="normal">120</text><text transform="translate(142.80 3152.20) rotate(-90)" x="0" y="0" font-size="107.1">28d compressive strength (MPa)</text><text x="265.70" y="3351.40" font-size="107.2" font-weight="normal">Specific Surface area of NCES (m<tspan font-size="70" dy="-46">2</tspan><tspan dy="46">/g)</tspan></text><text x="472.30" y="2974.30" font-size="66" font-weight="normal">N0</text><text x="679.70" y="2622.40" font-size="66" font-weight="normal">N1</text><text x="1122.40" y="2618.50" font-size="66" font-weight="normal">N2</text><text x="1593.80" y="2087.10" font-size="66" font-weight="normal">N3</text><text x="933.15" y="3470.00" font-size="85" font-weight="normal">(<tspan font-weight="bold">b</tspan>)</text></g></svg></body></html>
